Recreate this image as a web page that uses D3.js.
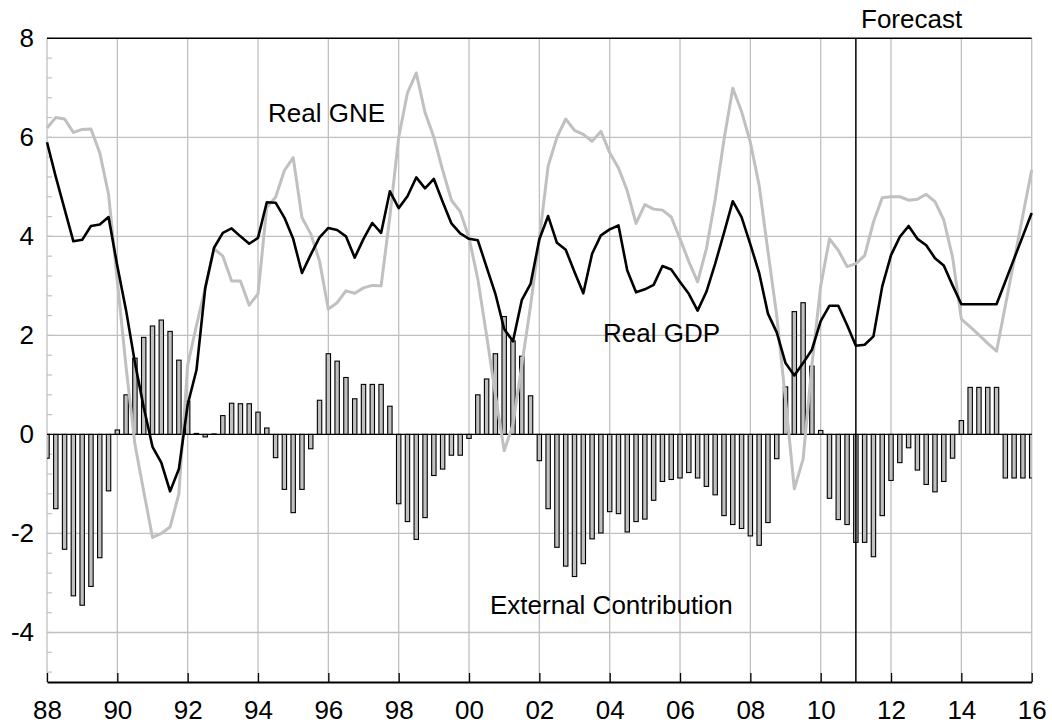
<!DOCTYPE html>
<html>
<head>
<meta charset="utf-8">
<script src="https://cdn.jsdelivr.net/npm/d3@7"></script>
<style>
  html, body { margin: 0; padding: 0; background: #fff; }
  svg { display: block; font-family: "Liberation Sans", Arial, sans-serif; }
</style>
</head>
<body>
<div id="chart"></div>
<script>
// quarterly data, 1988Q1 .. 2016Q1 (year-on-year %)
const startYear = 1988;

const realGDP = [
  5.9, 5.2, 4.55, 3.9,    3.93, 4.21, 4.24, 4.39,   3.4, 2.5, 1.45, 0.55,
  -0.25, -0.57, -1.15, -0.7,   0.6, 1.3, 2.96, 3.77,   4.07, 4.16, 4.0, 3.85,
  3.97, 4.69, 4.68, 4.38,   3.95, 3.26, 3.63, 3.98,   4.17, 4.13, 4.0, 3.57,
  3.95, 4.27, 4.07, 4.91,   4.57, 4.81, 5.19, 4.97,   5.16, 4.7, 4.26, 4.06,
  3.95, 3.92, 3.38, 2.84,   2.13, 1.88, 2.71, 3.04,   3.94, 4.41, 3.87, 3.73,
  3.28, 2.85, 3.65, 4.02,   4.14, 4.22, 3.31, 2.87,   2.93, 3.02, 3.4, 3.33,
  3.08, 2.84, 2.5, 2.88,    3.45, 4.07, 4.71, 4.39,   3.84, 3.26, 2.44, 2.06,
  1.44, 1.19, 1.44, 1.71,   2.29, 2.6, 2.6, 2.21,     1.79, 1.81, 1.98, 2.99,
  3.62, 3.99, 4.21, 3.95,   3.82, 3.56, 3.41, 3.01,   2.63, 2.63, 2.63, 2.63,
  2.63, 3.09, 3.55, 4.01,   4.47
];

const realGNE = [
  6.19, 6.4, 6.37, 6.1,     6.16, 6.17, 5.69, 4.85,   3.1, 1.35, -0.2, -1.15,
  -2.08, -2.0, -1.87, -1.2,   1.4, 2.2, 2.96, 3.75,   3.6, 3.1, 3.1, 2.61,
  2.84, 4.59, 4.79, 5.33,   5.59, 4.38, 4.05, 3.5,    2.53, 2.66, 2.9, 2.85,
  2.96, 3.01, 3.0, 4.4,     6.0, 6.9, 7.3, 6.5,       6.0, 5.34, 4.73, 4.5,
  3.97, 3.14, 2.0, 0.8,     -0.33, 0.2, 1.4, 2.6,     3.95, 5.42, 6.0, 6.37,
  6.14, 6.06, 5.92, 6.12,   5.69, 5.38, 4.92, 4.26,   4.64, 4.55, 4.53, 4.39,
  3.95, 3.49, 3.08, 3.75,   4.75, 5.95, 6.99, 6.52,   5.9, 5.03, 3.7, 2.4,
  0.7, -1.1, -0.5, 1.4,     3.0, 3.95, 3.72, 3.39,    3.45, 3.61, 4.29, 4.78,
  4.8, 4.8, 4.73, 4.75,     4.85, 4.7, 4.33, 3.58,    2.33, 2.17, 2.01, 1.84,
  1.68, 2.6, 3.51, 4.43,    5.34
];

const externalContribution = [
  -0.48, -1.5, -2.32, -3.26,   -3.45, -3.07, -2.49, -1.14,   0.09, 0.8, 1.54, 1.96,
  2.19, 2.31, 2.08, 1.5,       0.67, 0.02, -0.05, 0.01,      0.38, 0.63, 0.62, 0.62,
  0.45, 0.13, -0.47, -1.11,    -1.58, -1.11, -0.29, 0.69,    1.63, 1.48, 1.15, 0.72,
  1.01, 1.01, 1.01, 0.57,      -1.4, -1.76, -2.12, -1.68,    -0.83, -0.7, -0.42, -0.42,
  -0.08, 0.8, 1.12, 1.63,      2.38, 1.89, 1.58, 0.78,       -0.53, -1.5, -2.28, -2.66,
  -2.87, -2.61, -2.11, -1.99,  -1.56, -1.6, -1.97, -1.76,    -1.71, -1.33, -0.95, -0.91,
  -0.88, -0.77, -0.88, -1.05,  -1.22, -1.64, -1.82, -1.9,    -2.05, -2.24, -1.78, -0.49,
  0.96, 2.48, 2.66, 1.38,      0.08, -1.29, -1.72, -1.82,    -2.18, -2.18, -2.47, -1.64,
  -0.93, -0.57, -0.27, -0.72,  -1.01, -1.16, -0.95, -0.48,   0.28, 0.95, 0.95, 0.95,
  0.95, -0.88, -0.88, -0.88,   -0.88
];

const xTickYears = d3.range(1988, 2017, 2);
const yTickValues = [-4, -2, 0, 2, 4, 6, 8];
const yGridValues = [-4, -2, 2, 4, 6];
const forecastStart = 2011;

const seriesLabels = [
  { text: "Real GNE", x: 268, y: 122 },
  { text: "Real GDP", x: 603, y: 342 },
  { text: "External Contribution", x: 490, y: 614 },
  { text: "Forecast", x: 861, y: 28 }
];

// layout
const W = 1052, H = 727;
const margin = { top: 38.3, right: 20.3, bottom: 45, left: 47 };
const gridColor = "#c0c0c0";

const svg = d3.select("#chart").append("svg")
  .attr("width", W).attr("height", H);

svg.append("rect").attr("width", W).attr("height", H).attr("fill", "#fff");

const x = d3.scaleLinear().domain([1988, 2016]).range([margin.left, W - margin.right]);
const y = d3.scaleLinear().domain([-5, 8]).range([H - margin.bottom, margin.top]);

const tOf = i => startYear + i / 4;

svg.append("clipPath").attr("id", "plot-clip")
  .append("rect")
  .attr("x", x(1988)).attr("y", y(8))
  .attr("width", x(2016) - x(1988)).attr("height", y(-5) - y(8));

// grid
svg.append("g").selectAll("line").data(xTickYears).join("line")
  .attr("x1", d => x(d)).attr("x2", d => x(d))
  .attr("y1", y(8)).attr("y2", y(-5))
  .attr("stroke", gridColor).attr("stroke-width", 1.3);

svg.append("g").selectAll("line").data(yGridValues).join("line")
  .attr("x1", x(1988)).attr("x2", x(2016))
  .attr("y1", d => y(d)).attr("y2", d => y(d))
  .attr("stroke", gridColor).attr("stroke-width", 1.3);

// small ticks on the left edge, every 0.4
const minorTicks = d3.range(-12, 21).map(k => k * 0.4).filter(v => v > -5);
svg.append("g").selectAll("line").data(minorTicks).join("line")
  .attr("x1", x(1988)).attr("x2", x(1988) + 5)
  .attr("y1", d => y(d)).attr("y2", d => y(d))
  .attr("stroke", gridColor).attr("stroke-width", 1.2);

// bars
const barW = 4.4;
svg.append("g").attr("clip-path", "url(#plot-clip)")
  .selectAll("rect").data(externalContribution).join("rect")
  .attr("x", (d, i) => x(tOf(i)) - barW / 2)
  .attr("y", d => y(Math.max(0, d)))
  .attr("width", barW)
  .attr("height", d => Math.abs(y(d) - y(0)))
  .attr("fill", "#c0c0c0")
  .attr("stroke", "#000")
  .attr("stroke-width", 1.1);

// zero line and top border
svg.append("line")
  .attr("x1", x(1988)).attr("x2", x(2016))
  .attr("y1", y(0)).attr("y2", y(0))
  .attr("stroke", "#000").attr("stroke-width", 1.4);
svg.append("line")
  .attr("x1", x(1988)).attr("x2", x(2016))
  .attr("y1", y(8)).attr("y2", y(8))
  .attr("stroke", "#000").attr("stroke-width", 1.4);

// forecast divider
svg.append("line")
  .attr("x1", x(forecastStart)).attr("x2", x(forecastStart))
  .attr("y1", y(8)).attr("y2", y(-5))
  .attr("stroke", "#000").attr("stroke-width", 1.5);

// lines
const line = d3.line().x((d, i) => x(tOf(i))).y(d => y(d));
svg.append("path").datum(realGNE)
  .attr("d", line).attr("fill", "none")
  .attr("stroke", "#c0c0c0").attr("stroke-width", 3)
  .attr("stroke-linejoin", "round");
svg.append("path").datum(realGDP)
  .attr("d", line).attr("fill", "none")
  .attr("stroke", "#000").attr("stroke-width", 2.6)
  .attr("stroke-linejoin", "round");

// axes
const xAxis = d3.axisBottom(x)
  .tickValues(xTickYears)
  .tickFormat(d => String(d % 100).padStart(2, "0"))
  .tickSizeInner(-9).tickSizeOuter(0).tickPadding(18.5);
const gx = svg.append("g").attr("transform", `translate(0,${y(-5)})`).call(xAxis);
gx.select(".domain").attr("stroke", "#000").attr("stroke-width", 1.8);
gx.selectAll(".tick line").attr("stroke", "#000").attr("stroke-width", 1.3);
gx.selectAll("text").attr("font-size", 26).attr("fill", "#000")
  .attr("font-family", "Liberation Sans, Arial, sans-serif");

const yAxis = d3.axisLeft(y).tickValues(yTickValues).tickFormat(d => String(d))
  .tickSize(0).tickPadding(13);
const gy = svg.append("g").attr("transform", `translate(${x(1988)},0)`).call(yAxis);
gy.select(".domain").remove();
gy.selectAll("text").attr("font-size", 26).attr("fill", "#000")
  .attr("font-family", "Liberation Sans, Arial, sans-serif");

// series labels
svg.append("g").selectAll("text").data(seriesLabels).join("text")
  .attr("x", d => d.x).attr("y", d => d.y)
  .attr("font-size", 26).attr("fill", "#000")
  .text(d => d.text);
</script>
</body>
</html>
